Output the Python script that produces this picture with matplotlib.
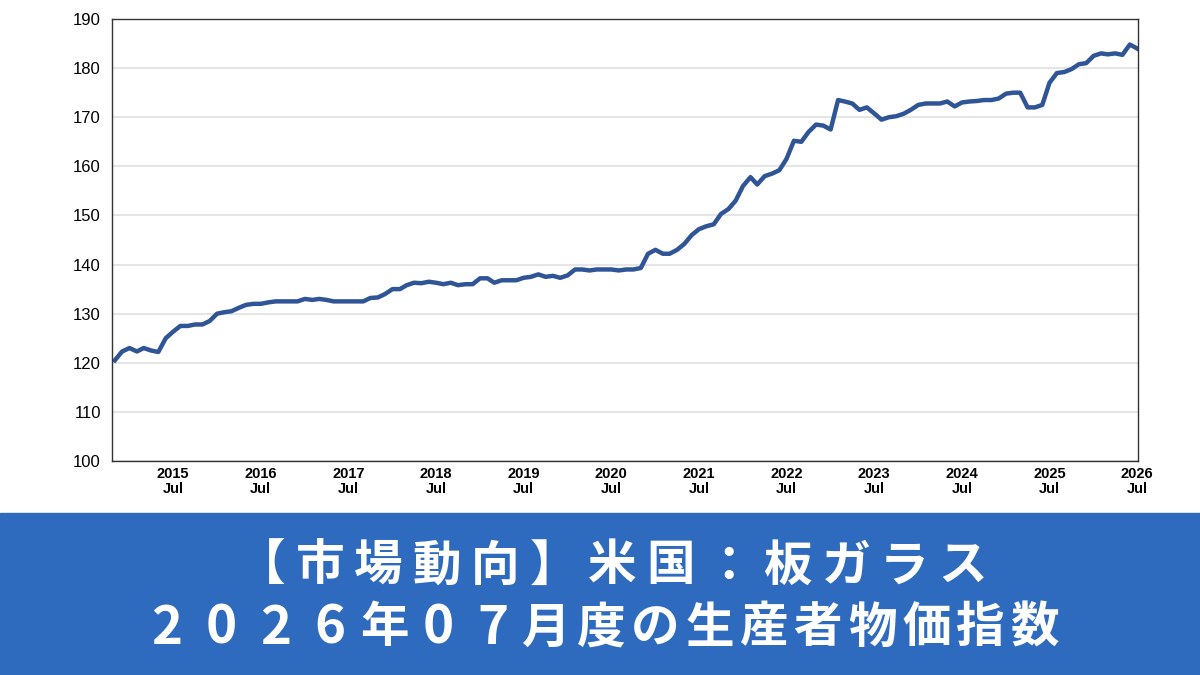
import matplotlib
matplotlib.use("Agg")
import matplotlib.pyplot as plt
import pandas as pd

values = [120.5, 122.3,
 123, 122.3, 123, 122.5, 122.2, 125, 126.3, 127.5, 127.5, 127.8, 127.8, 128.5,
 130, 130.3, 130.5, 131.2, 131.8, 132, 132, 132.3, 132.5, 132.5, 132.5, 132.5,
 133, 132.8, 133, 132.8, 132.5, 132.5, 132.5, 132.5, 132.5, 133.2, 133.3, 134,
 135, 135, 135.8, 136.3, 136.2, 136.5, 136.3, 136, 136.3, 135.8, 136, 136,
 137.2, 137.2, 136.3, 136.8, 136.8, 136.8, 137.3, 137.5, 138, 137.5, 137.7, 137.3,
 137.8, 139, 139, 138.8, 139, 139, 139, 138.8, 139, 139, 139.3, 142.2,
 143, 142.2, 142.2, 143, 144.2, 146, 147.2, 147.8, 148.2, 150.3, 151.3, 153,
 156, 157.8, 156.3, 158, 158.5, 159.2, 161.5, 165.2, 165, 167, 168.5, 168.3,
 167.5, 173.5, 173.2, 172.8, 171.5, 172, 170.8, 169.5, 170, 170.2, 170.7, 171.5,
 172.5, 172.8, 172.8, 172.8, 173.2, 172.2, 173, 173.2, 173.3, 173.5, 173.5, 173.8,
 174.8, 175, 175, 172, 172, 172.5, 177, 179, 179.2, 179.8, 180.8, 181,
 182.5, 183, 182.8, 183, 182.7, 184.8, 184]
dates = pd.date_range("2014-11-01", periods=len(values), freq="MS")
tick_years = list(range(2015, 2027))
tick_dates = [pd.Timestamp(f"{y}-07-01") for y in tick_years]
tick_labels = [f"{y}\nJul" for y in tick_years]
yticks = list(range(100, 191, 10))
title_lines = ["【市場動向】米国：板ガラス", "2026年07月度の生産者物価指数"]

plt.rcParams['font.family'] = ['Liberation Sans', 'DejaVu Sans']
fig = plt.figure(figsize=(12, 6.75), dpi=100)
ax = fig.add_axes([112/1200, 1-461/675, (1138-112)/1200, (461-19)/675])
ax.plot(dates, values, color="#2f5597", lw=3.2, solid_joinstyle="round")
ax.set_ylim(100, 190)
ax.set_yticks(yticks)
ax.set_xlim(pd.Timestamp("2014-10-20"), pd.Timestamp("2026-07-05"))
ax.set_xticks(tick_dates)
ax.set_xticklabels(tick_labels, fontsize=10.5, fontweight="bold", linespacing=1.1)
ax.tick_params(axis="y", labelsize=12, length=0, pad=8)
ax.tick_params(axis="x", length=0, pad=4)
ax.grid(axis="y", color="#e0e0e0", lw=1.2)
ax.set_axisbelow(True)
for s in ax.spines.values():
    s.set_color("#333333"); s.set_linewidth(1)

fig.patches.append(plt.Rectangle((0, 0), 1, 162/675, transform=fig.transFigure,
                                 color="#2e6bbf", zorder=0))
for line, (x0, x1, yc) in zip(title_lines, [(232, 992, 566), (140, 1062, 628)]):
    n = len(line)
    pitch = (x1 - x0) / n
    for i, ch in enumerate(line):
        fs = 35 if ord(ch) > 255 else 38
        fig.text((x0 + pitch * (i + 0.5)) / 1200, 1 - yc / 675, ch,
                 ha="center", va="center", color="white", fontsize=fs,
                 fontweight="bold", family=["Noto Sans CJK JP", "DejaVu Sans"])
fig.savefig("out.png", dpi=100)
